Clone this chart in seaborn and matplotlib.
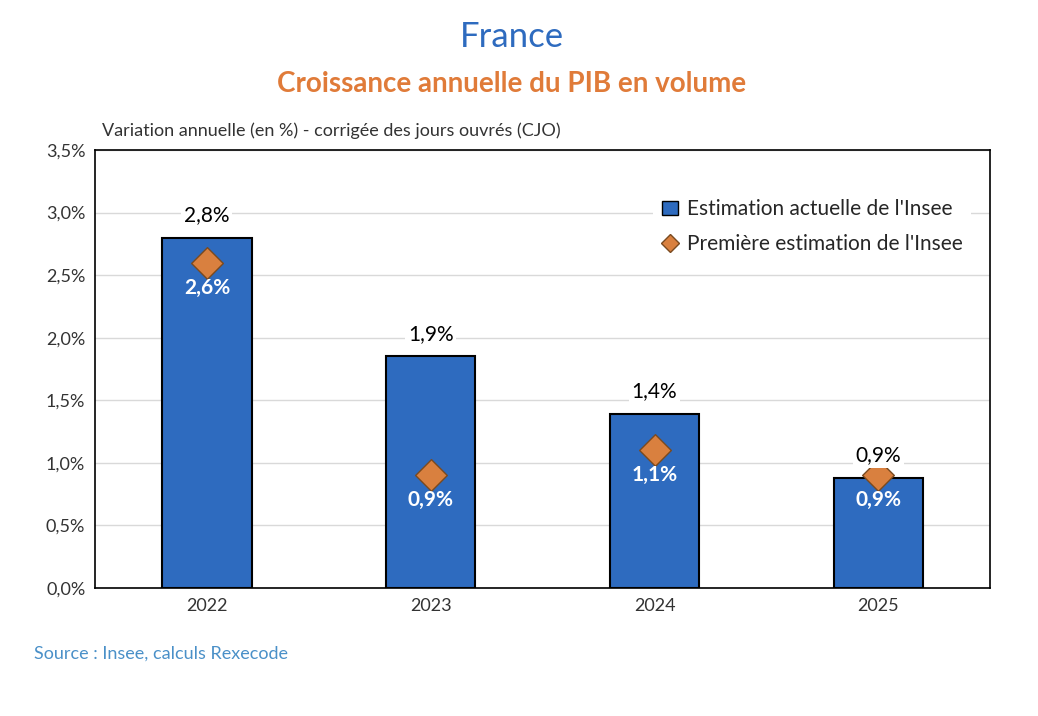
import seaborn as sns
import matplotlib.pyplot as plt
import pandas as pd
from matplotlib.lines import Line2D
from matplotlib.patches import Patch

years = ['2022', '2023', '2024', '2025']
actuelle = [2.8, 1.85, 1.39, 0.88]
actuelle_labels = ['2,8%', '1,9%', '1,4%', '0,9%']
premiere = [2.6, 0.9, 1.1, 0.9]
premiere_labels = ['2,6%', '0,9%', '1,1%', '0,9%']
yticks = [0, 0.5, 1.0, 1.5, 2.0, 2.5, 3.0, 3.5]

blue = '#2E6BBF'
orange = '#D9803F'

sns.set_style('white')
plt.rcParams['font.family'] = ['Lato', 'DejaVu Sans']

df = pd.DataFrame({'year': years, 'val': actuelle})

fig = plt.figure(figsize=(10.38, 7.16), dpi=100)
ax = fig.add_axes([0.0915, 0.179, 0.8625, 0.6115])
sns.barplot(data=df, x='year', y='val', color=blue, width=0.4,
            edgecolor='black', linewidth=1.5, saturation=1, ax=ax, zorder=2)
sns.scatterplot(x=years, y=premiere, marker='D', s=260, color=orange,
                edgecolor='#7a4a20', linewidth=1, ax=ax, zorder=3)

for i, (v, lab) in enumerate(zip(actuelle, actuelle_labels)):
    ax.text(i, v + 0.1, lab, ha='center', va='bottom', fontsize=15, color='black',
            bbox=dict(facecolor='white', edgecolor='none', pad=2), zorder=4)
for i, (v, lab) in enumerate(zip(premiere, premiere_labels)):
    ax.text(i, v - 0.12, lab, ha='center', va='top', fontsize=15, color='white',
            fontweight='bold', zorder=4)

ax.set_ylim(0, 3.5)
ax.set_xlim(-0.5, 3.5)
ax.set_yticks(yticks)
ax.set_yticklabels([f'{t:.1f}%'.replace('.', ',') for t in yticks], fontsize=13, color='#333333')
ax.tick_params(axis='x', labelsize=13, colors='#333333')
ax.set_xlabel('')
ax.set_ylabel('')
ax.yaxis.grid(True, color='#d9d9d9', linewidth=1, zorder=0)
ax.set_axisbelow(True)
for s in ax.spines.values():
    s.set_color('black')
    s.set_linewidth(1.2)

handles = [Patch(facecolor=blue, edgecolor='black', label="Estimation actuelle de l'Insee"),
           Line2D([0], [0], marker='D', color='none', markerfacecolor=orange,
                  markeredgecolor='#7a4a20', markersize=9, label="Première estimation de l'Insee")]
leg = ax.legend(handles=handles, loc='upper right', bbox_to_anchor=(0.99, 0.93),
                fontsize=15, frameon=True, facecolor='white', edgecolor='none',
                framealpha=1, handlelength=0.8, handletextpad=0.4, labelspacing=0.7)

fig.text(0.493, 0.935, 'France', ha='center', fontsize=25, color=blue)
fig.text(0.493, 0.872, 'Croissance annuelle du PIB en volume', ha='center',
         fontsize=20, color='#E07B39', fontweight='bold')
fig.text(0.098, 0.81, 'Variation annuelle (en %) - corrigée des jours ouvrés (CJO)',
         fontsize=13, color='#333333')
fig.text(0.033, 0.08, 'Source : Insee, calculs Rexecode', fontsize=13, color='#4a90c8')

fig.savefig('out.png', dpi=100)
